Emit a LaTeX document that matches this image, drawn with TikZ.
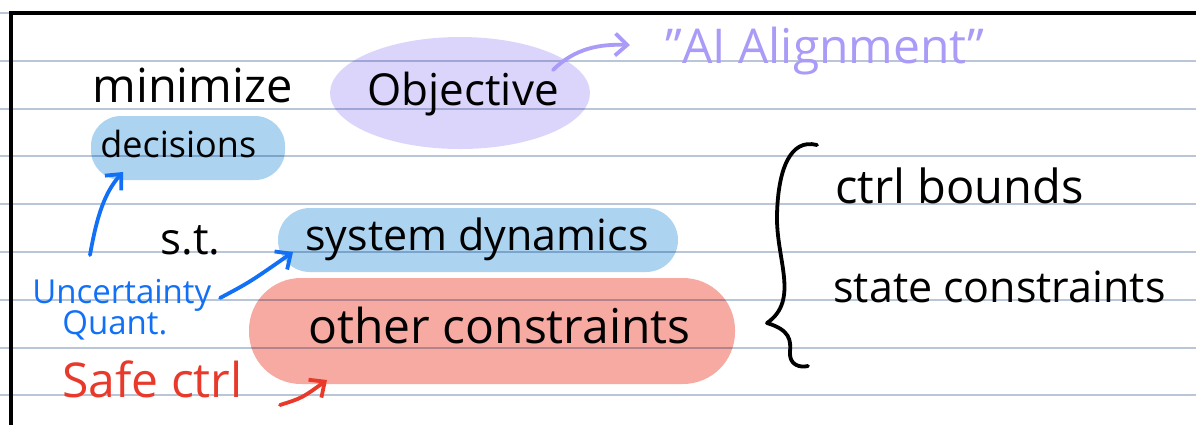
\documentclass[tikz,border=0pt]{standalone}
\usepackage{fontspec}
\setmainfont{Open Sans}
\usetikzlibrary{arrows.meta,shapes.geometric,positioning}

\definecolor{rulecol}{HTML}{B9C6D8}
\definecolor{lilac}{HTML}{DCD5FB}
\definecolor{skyblob}{HTML}{ACD3EF}
\definecolor{salmon}{HTML}{F6AAA2}
\definecolor{lilacink}{HTML}{A99BF7}
\definecolor{blueink}{HTML}{1170F6}
\definecolor{redink}{HTML}{E8392B}

\tikzset{ruled/.style={draw=rulecol, line width=1pt},
hand/.style={font=\fontsize{#1}{#1}\selectfont, inner sep=0pt, anchor=base west},
%default size of the hand writing
hand/.default={22},
blob/.style={fill=#1, draw=none, blend mode=multiply},
pen/.style={line width=1.9pt, line cap=round, line join=round}}

\begin{document}
\begin{tikzpicture}[x=0.5pt,y=-0.5pt,>={Straight Barb[length=6pt,width=11pt]}]
  \useasboundingbox (0,0) rectangle (1196,425);

  % the paper
  \foreach \k in {0,...,8}
    \draw[ruled] (0,{13+47.8*\k}) -- (1196,{13+47.8*\k});
  \draw[line width=2pt] (11,425) -- (11,13) -- (1196,13);

  % highlighter
  \node[blob=lilac, ellipse, minimum width=130pt, minimum height=56pt] (objblob) at (460,93) {};
  \node[blob=skyblob, rounded corners=15pt, minimum width=97pt, minimum height=32pt] (decblob) at (188,148) {};
  \node[blob=skyblob, rounded corners=16pt, minimum width=200pt, minimum height=32pt] (dynblob) at (478,240) {};
  \node[blob=salmon, rounded corners=26pt, minimum width=243pt, minimum height=53pt] (conblob) at (492,331) {};

  \node[hand=23.5] (minimize) at (92,102) {minimize};
  \node[hand] (objective) at (367,105) {Objective};
  \node[hand=18] (decisions) at (100,157) {decisions};
  \node[hand=24, text=lilacink] (alignment) at (665,63) {"AI Alignment"};

  \node[hand] (st) at (160,254) {s.t.};
  \node[hand=21.5] (dynamics) at (305,250) {system dynamics};
  \node[hand=24] (others) at (308,343) {other constraints};

  \node[hand=16.5, text=blueink] (uncert) at (32,303) {Uncertainty};
  \node[hand=16.5, text=blueink] (quant) at (62,334) {Quant.};
  \node[hand=24, text=redink] (safe) at (62,397) {Safe ctrl};

  \node[hand=23.5] (bounds) at (835,203) {ctrl bounds};
  \node[hand=21.5] (statecon) at (833,302) {state constraints};

  % arrows
  \coordinate (objtail) at (553,70);
  \coordinate (aligntip) at (630,45);
  \coordinate (uctail) at (90,255);
  \coordinate (dectip) at (123,172);
  \coordinate (uqtail) at (220,298);
  \coordinate (dyntip) at (293,252);
  \coordinate (safetail) at (280,405);
  \coordinate (contip) at (327,380);

  \draw[pen, lilacink, ->] (objtail) .. controls (575,48) and (600,44) .. (aligntip);
  \draw[pen, blueink, ->] (uctail) .. controls (97,215) and (105,192) .. (dectip);
  \draw[pen, blueink, ->] (uqtail) .. controls (250,282) .. (dyntip);
  \draw[pen, redink, ->] (safetail) .. controls (302,398) .. (contip);

  % the brace
  \draw[pen] (817,145) .. controls (790,138) and (778,170) .. (777,215)
    .. controls (776,260) and (800,300) .. (767,323)
    .. controls (790,330) and (791,340) .. (790,352)
    .. controls (789,365) and (800,368) .. (808,366);
\end{tikzpicture}
\end{document}
